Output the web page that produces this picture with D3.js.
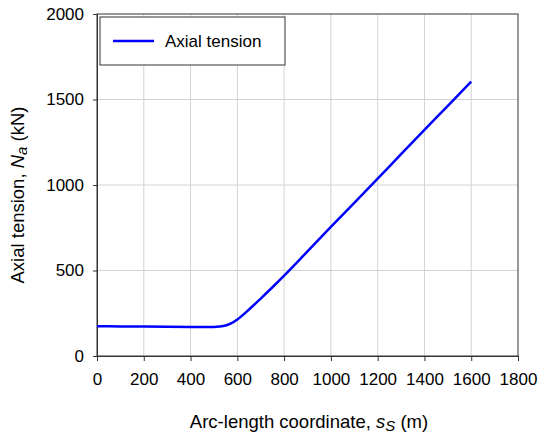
<!DOCTYPE html>
<html>
<head>
  <script src="https://d3js.org/d3.v7.min.js"></script>
  <style>
    html, body { margin: 0; padding: 0; background: #fff; overflow: hidden; }
    svg { display: block; font-family: "Liberation Sans", Arial, sans-serif; }
    .tick text { font-size: 17px; fill: #000; }
    .grid line { stroke: #d3d3d3; stroke-width: 1; }
  </style>
</head>
<body>
  <svg id="chart"></svg>
  <script>
    // arc-length (m) and axial tension (kN)
    var arcLength = [0, 100, 200, 300, 400, 500, 525, 550, 575, 600, 650, 700, 750, 800,
                     900, 1000, 1100, 1200, 1300, 1400, 1500, 1600];
    var tension = [174, 173, 172, 171, 170, 170, 172, 178, 192, 214, 272, 336, 402, 470,
                   612, 755, 895, 1037, 1180, 1322, 1463, 1605];
    var xTicks = [0, 200, 400, 600, 800, 1000, 1200, 1400, 1600, 1800];
    var yTicks = [0, 500, 1000, 1500, 2000];
    var seriesName = "Axial tension";

    var width = 539, height = 438;
    var margin = { top: 14, right: 21, bottom: 82, left: 97 };
    var innerWidth = width - margin.left - margin.right;
    var innerHeight = height - margin.top - margin.bottom;

    var svg = d3.select("#chart")
      .attr("width", width)
      .attr("height", height);

    var chart = svg.append("g")
      .attr("transform", "translate(" + margin.left + "," + margin.top + ")");

    var x = d3.scaleLinear().domain([0, 1800]).range([0, innerWidth]);
    var y = d3.scaleLinear().domain([0, 2000]).range([innerHeight, 0]);

    // grid lines
    chart.append("g")
      .attr("class", "grid")
      .selectAll("line")
      .data(xTicks.slice(1, -1))
      .enter().append("line")
      .attr("x1", d => x(d)).attr("x2", d => x(d))
      .attr("y1", 0).attr("y2", innerHeight);

    chart.append("g")
      .attr("class", "grid")
      .selectAll("line")
      .data(yTicks.slice(1, -1))
      .enter().append("line")
      .attr("x1", 0).attr("x2", innerWidth)
      .attr("y1", d => y(d)).attr("y2", d => y(d));

    // frame
    chart.append("rect")
      .attr("x", 0).attr("y", 0)
      .attr("width", innerWidth).attr("height", innerHeight)
      .attr("fill", "none")
      .attr("stroke", "#333")
      .attr("stroke-width", 1);

    var xAxis = chart.append("g")
      .attr("transform", "translate(0," + innerHeight + ")")
      .call(d3.axisBottom(x).tickValues(xTicks).tickSize(5).tickPadding(12).tickFormat(d3.format("d")));
    xAxis.select(".domain").attr("stroke", "#333");
    xAxis.selectAll(".tick line").attr("stroke", "#333");

    var yAxis = chart.append("g")
      .call(d3.axisLeft(y).tickValues(yTicks).tickSize(4).tickPadding(9).tickFormat(d3.format("d")));
    yAxis.select(".domain").attr("stroke", "#333");
    yAxis.selectAll(".tick line").attr("stroke", "#333");

    // the curve
    var line = d3.line()
      .x((d, i) => x(arcLength[i]))
      .y(d => y(d))
      .curve(d3.curveMonotoneX);

    chart.append("path")
      .datum(tension)
      .attr("d", line)
      .attr("fill", "none")
      .attr("stroke", "#0000ff")
      .attr("stroke-width", 2.5);

    // legend
    var legend = chart.append("g").attr("transform", "translate(3,3)");
    legend.append("rect")
      .attr("x", 0).attr("y", 0)
      .attr("width", 185).attr("height", 48)
      .attr("fill", "#fff")
      .attr("stroke", "#333");
    legend.append("line")
      .attr("x1", 13).attr("x2", 54)
      .attr("y1", 24).attr("y2", 24)
      .attr("stroke", "#0000ff")
      .attr("stroke-width", 2.5);
    legend.append("text")
      .attr("x", 65).attr("y", 30)
      .style("font-size", "17px")
      .text(seriesName);

    // axis titles
    var xTitle = svg.append("text")
      .attr("x", 309)
      .attr("y", 428)
      .attr("text-anchor", "middle")
      .style("font-size", "18.5px");
    xTitle.append("tspan").text("Arc-length coordinate, ");
    xTitle.append("tspan").style("font-style", "italic").text("s");
    xTitle.append("tspan").style("font-style", "italic").style("font-size", "15px")
      .attr("dy", 3).text("S");
    xTitle.append("tspan").attr("dy", -3).text(" (m)");

    var yTitle = svg.append("text")
      .attr("transform", "translate(24,195) rotate(-90)")
      .attr("text-anchor", "middle")
      .style("font-size", "18.5px");
    yTitle.append("tspan").text("Axial tension, ");
    yTitle.append("tspan").style("font-style", "italic").text("N");
    yTitle.append("tspan").style("font-style", "italic").style("font-size", "15px")
      .attr("dy", 3).text("a");
    yTitle.append("tspan").attr("dy", -3).text("  (kN)");
  </script>
</body>
</html>
